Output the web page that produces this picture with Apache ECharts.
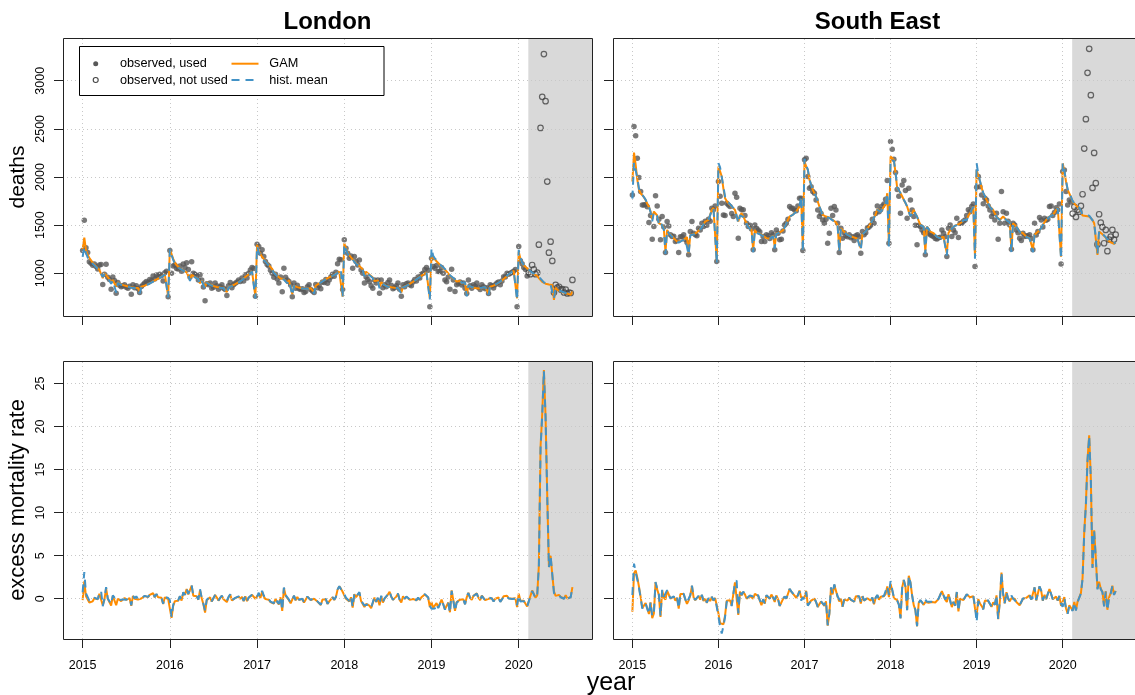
<!DOCTYPE html>
<html><head><meta charset="utf-8">
<script src="https://cdn.jsdelivr.net/npm/echarts@6/dist/echarts.min.js"></script>
<style>html,body{margin:0;padding:0;background:#fff}#c{width:1135px;height:695px}</style>
</head><body><div id="c"></div>
<script>
// ---------- DATA (weekly deaths, week 1..52 per year; 2020 to week 33) ----------
const years = [2015, 2016, 2017, 2018, 2019, 2020];
const yearTicks = [2015, 2016, 2017, 2018, 2019, 2020];
const deathTicks = [1000, 1500, 2000, 2500, 3000];
const excessTicks = [0, 5, 10, 15, 20, 25];
const firstNotUsedWeek2020 = 7;
const greyStart = 2020.11;
const londonPop = 8961989;
const southEastPop = 9180135;

const londonObserved = [
[1236,1550,1265,1215,1120,1104,1083,1095,1070,1045,1087,1092,882,990,1093,958,935,834,960,925,792,905,875,860,868,880,855,845,865,782,880,850,870,840,800,862,880,900,915,905,935,925,972,940,983,960,990,975,920,1005,1020,757],
[1236,1000,1075,1085,1050,1045,1075,1020,1095,1060,1110,1040,960,1120,1000,990,975,930,985,930,858,715,890,880,900,845,855,900,870,835,860,880,845,830,770,870,905,850,880,895,910,930,915,950,920,985,950,1000,1035,1060,1050,760],
[1302,1277,1208,1243,1173,1121,1090,1075,1030,1000,958,990,940,900,960,809,1052,958,930,915,878,757,900,845,875,838,830,840,800,810,860,880,830,815,800,882,850,872,840,910,905,935,895,930,960,990,970,1010,1100,1145,1140,830],
[1347,1260,1208,1156,1180,1052,1173,1121,1087,1139,1035,1000,900,960,935,913,870,844,931,900,930,792,931,850,880,860,905,930,875,840,850,870,900,835,760,880,860,890,900,880,870,910,935,920,960,950,990,1000,1040,1060,1030,653],
[1156,1069,1052,1080,1017,1017,1060,1000,931,913,960,834,1042,930,810,880,896,910,879,900,844,790,931,870,844,880,865,900,852,830,880,860,840,850,790,880,870,846,880,900,910,880,920,965,960,1000,990,1000,1010,1020,1040,653],
[1277,1130,1100,1060,1040,972,1010,990,1086,1040,990,1006,1297,2510,2833,3277,2788,1952,1214,1328,1128,800,880,850,860,830,835,800,830,790,800,795,931]
];
const londonGAM = [
[1250,1370,1240,1190,1160,1135,1110,1090,1070,1050,1035,1020,950,1000,985,960,945,905,930,915,860,905,895,885,880,872,868,862,858,855,852,850,850,848,812,860,865,872,880,888,895,905,915,925,935,945,955,965,975,990,1005,760],
[1240,1200,1150,1110,1085,1065,1050,1040,1030,1020,1010,995,935,985,970,960,950,940,895,925,915,860,905,895,885,875,868,862,858,855,852,850,850,848,805,855,860,868,878,888,898,908,918,930,945,960,975,990,1005,1020,1025,760],
[1295,1230,1200,1170,1150,1125,1105,1085,1065,1045,1010,990,975,960,945,935,940,925,900,930,925,785,870,862,856,850,846,843,840,840,840,842,845,848,800,870,880,895,905,918,930,940,950,958,966,975,983,993,1005,1017,1035,757],
[1312,1260,1215,1185,1165,1145,1125,1105,1090,1075,1060,1040,985,1015,1000,985,970,955,920,935,925,860,905,890,878,870,862,858,855,852,850,848,848,848,800,855,862,870,880,890,900,912,925,938,950,962,975,985,995,1010,1020,740],
[1190,1165,1145,1125,1110,1090,1070,1055,1040,1020,1000,975,955,945,935,915,930,920,895,905,900,775,870,860,855,850,846,844,842,845,848,852,855,855,790,860,865,872,880,890,898,910,925,940,955,970,985,1000,1010,1025,1035,740],
[1225,1150,1104,1080,1065,1052,1035,1018,1000,990,980,972,950,930,910,896,892,888,884,880,879,723,850,827,820,812,805,798,792,788,782,775,810]
];
const londonHistMean = [
[1170,1272,1210,1165,1140,1120,1100,1085,1065,1050,1030,1010,960,990,972,955,940,890,925,905,800,900,890,880,875,870,865,860,855,850,848,846,845,843,790,855,862,870,878,886,893,903,913,923,933,943,953,963,973,985,1000,750],
[1250,1190,1140,1100,1080,1060,1048,1038,1028,1018,1005,990,920,980,968,958,948,938,885,922,910,840,900,890,880,872,865,860,856,853,850,848,848,845,790,852,858,866,876,886,896,906,916,928,943,958,973,988,1003,1018,1035,740],
[1280,1215,1190,1160,1140,1120,1100,1080,1060,1040,1005,985,970,955,940,930,935,920,895,925,920,770,868,860,854,848,844,841,838,838,838,840,843,846,790,868,878,893,903,916,928,938,948,956,964,973,981,991,1003,1015,1040,745],
[1300,1250,1205,1180,1160,1140,1120,1100,1085,1070,1055,1035,970,1010,995,980,965,950,910,930,920,845,900,888,876,868,860,856,853,850,848,846,846,846,790,853,860,868,878,888,898,910,923,936,948,960,972,982,992,1005,1015,725],
[1260,1180,1155,1135,1115,1095,1075,1060,1045,1025,1005,980,960,950,940,920,935,925,898,908,903,760,872,862,857,852,848,846,844,847,850,854,857,857,775,862,868,875,883,893,901,913,928,943,958,973,988,1003,1013,1028,1040,720],
[1243,1160,1110,1085,1068,1055,1038,1020,1005,995,985,975,960,945,925,905,895,890,885,880,875,740,845,830,822,815,808,800,795,790,786,780,805]
];

const southEastObserved = [
[1814,2525,2428,2195,1994,1849,1710,1710,1715,1690,1527,1600,1353,1485,1804,1700,1560,1347,1589,1480,1215,1537,1492,1400,1381,1385,1329,1340,1215,1380,1378,1400,1350,1320,1191,1433,1537,1416,1400,1390,1468,1450,1520,1485,1540,1500,1560,1540,1676,1660,1700,1121],
[1953,1800,1728,1606,1600,1728,1710,1693,1620,1589,1832,1790,1364,1676,1660,1660,1600,1520,1485,1500,1460,1243,1502,1468,1450,1430,1329,1381,1329,1400,1390,1360,1420,1400,1243,1450,1416,1347,1354,1440,1502,1520,1560,1693,1676,1676,1658,1650,1700,1780,1780,1236],
[2178,2195,2005,1884,1900,1849,1832,1760,1658,1589,1620,1554,1520,1560,1312,1416,1676,1600,1693,1658,1520,1215,1468,1364,1420,1390,1380,1400,1370,1380,1340,1390,1400,1380,1208,1433,1400,1420,1470,1480,1500,1560,1520,1620,1700,1640,1660,1700,1720,1769,1963,1312],
[2369,2289,2185,2046,1870,1800,1624,1918,1963,1859,1572,1884,1762,1658,1589,1500,1295,1500,1485,1450,1420,1191,1450,1416,1400,1390,1381,1360,1357,1370,1374,1450,1416,1380,1173,1468,1502,1381,1450,1420,1572,1372,1520,1520,1540,1554,1600,1660,1640,1693,1720,1069],
[1894,2005,1900,1814,1721,1780,1762,1700,1658,1589,1620,1554,1624,1353,1520,1850,1640,1520,1624,1540,1502,1249,1520,1502,1450,1420,1364,1340,1416,1381,1390,1388,1400,1360,1243,1520,1398,1433,1580,1554,1480,1572,1550,1560,1693,1700,1600,1630,1680,1660,1720,1097],
[2057,2074,1849,1710,1760,1740,1620,1690,1585,1660,1640,1700,1821,2295,2601,3082,3332,2850,1887,2250,1936,1300,1613,1526,1480,1312,1450,1229,1350,1380,1450,1350,1401]
];
const southEastGAM = [
[1953,2254,2126,1970,1866,1830,1810,1790,1760,1720,1690,1640,1560,1641,1630,1600,1520,1540,1500,1468,1225,1450,1420,1400,1385,1364,1350,1330,1320,1330,1340,1350,1360,1375,1208,1398,1400,1405,1415,1425,1440,1460,1480,1510,1537,1545,1555,1565,1658,1680,1693,1121],
[2109,2060,2005,1880,1780,1750,1728,1710,1693,1675,1658,1600,1537,1600,1624,1590,1554,1520,1485,1470,1450,1243,1450,1425,1420,1410,1398,1390,1381,1365,1347,1360,1375,1390,1277,1416,1420,1425,1435,1445,1480,1520,1555,1589,1600,1610,1625,1641,1660,1693,1770,1243],
[2161,2110,2074,1970,1920,1866,1830,1797,1745,1693,1650,1606,1598,1589,1600,1580,1560,1554,1545,1530,1500,1243,1468,1450,1430,1415,1400,1390,1382,1380,1372,1364,1360,1355,1260,1405,1420,1440,1465,1490,1520,1550,1580,1610,1665,1650,1640,1665,1693,1720,1832,1295],
[2213,2200,2178,2040,1884,1860,1832,1800,1762,1730,1693,1640,1589,1620,1658,1620,1589,1545,1502,1490,1485,1225,1485,1460,1433,1425,1416,1400,1381,1372,1364,1370,1381,1390,1208,1420,1433,1470,1485,1495,1502,1508,1520,1530,1554,1560,1554,1600,1624,1660,1693,1173],
[2074,2010,1953,1890,1832,1800,1762,1725,1693,1675,1658,1620,1589,1570,1554,1570,1589,1570,1554,1540,1530,1243,1520,1502,1485,1460,1433,1425,1416,1400,1381,1372,1364,1370,1243,1400,1416,1430,1450,1470,1502,1530,1554,1570,1589,1600,1606,1630,1658,1680,1693,1173],
[2143,2057,1953,1866,1830,1790,1745,1725,1705,1690,1676,1640,1600,1589,1595,1595,1590,1570,1554,1520,1500,1191,1433,1420,1405,1390,1370,1347,1335,1320,1312,1305,1318]
];
const southEastHistMean = [
[1775,2150,2150,1990,1880,1840,1815,1795,1765,1725,1690,1635,1540,1635,1625,1595,1510,1535,1495,1460,1200,1445,1415,1395,1380,1360,1345,1327,1318,1328,1338,1348,1355,1370,1190,1395,1398,1402,1412,1422,1437,1457,1478,1508,1535,1543,1553,1563,1655,1678,1690,1100],
[2143,2100,2100,1900,1795,1760,1735,1715,1698,1680,1660,1595,1520,1600,1620,1585,1550,1515,1480,1465,1445,1220,1445,1420,1415,1405,1395,1386,1378,1362,1345,1358,1372,1387,1255,1412,1417,1422,1432,1442,1478,1518,1553,1587,1598,1608,1623,1640,1665,1700,1800,1220],
[2190,2120,2080,1975,1920,1866,1830,1795,1745,1693,1650,1600,1590,1585,1595,1575,1555,1550,1540,1525,1495,1220,1465,1448,1428,1413,1398,1388,1380,1378,1370,1362,1358,1353,1240,1403,1418,1438,1463,1488,1518,1548,1578,1608,1660,1648,1638,1663,1690,1718,1830,1270],
[2180,2190,2170,2050,1890,1862,1834,1802,1764,1732,1695,1642,1590,1620,1656,1618,1587,1543,1500,1488,1483,1200,1483,1458,1431,1423,1414,1398,1379,1370,1362,1368,1379,1388,1185,1418,1431,1468,1483,1493,1500,1506,1518,1528,1552,1558,1552,1598,1622,1658,1690,1150],
[2143,2030,1960,1895,1835,1800,1760,1723,1690,1672,1655,1618,1586,1568,1552,1568,1587,1568,1552,1538,1528,1215,1518,1500,1483,1458,1431,1423,1414,1398,1379,1370,1362,1368,1220,1398,1414,1428,1448,1468,1500,1528,1552,1568,1587,1598,1604,1628,1656,1678,1690,1150],
[2143,2070,1960,1870,1830,1795,1750,1730,1710,1695,1680,1645,1610,1600,1606,1606,1598,1575,1560,1525,1505,1200,1440,1425,1410,1395,1375,1352,1340,1325,1318,1310,1320]
];

// ---------- BUILD ----------
function build(obs, gam, hist, pop) {
  const r = {used: [], notUsed: [], gam: [], hist: [], exGam: [], exHist: []};
  years.forEach((yr, i) => {
    obs[i].forEach((v, w) => {
      const x = yr + w / 52;
      const notUsed = yr === 2020 && (w + 1) >= firstNotUsedWeek2020;
      (notUsed ? r.notUsed : r.used).push([x, v]);
      r.gam.push([x, gam[i][w]]);
      r.hist.push([x, hist[i][w]]);
      r.exGam.push([x, (v - gam[i][w]) / pop * 1e5]);
      r.exHist.push([x, (v - hist[i][w]) / pop * 1e5]);
    });
  });
  return r;
}
const lon = build(londonObserved, londonGAM, londonHistMean, londonPop);
const se = build(southEastObserved, southEastGAM, southEastHistMean, southEastPop);

const FONT = 'Liberation Sans, Arial, Helvetica, sans-serif';
const ORANGE = '#FF8C00', BLUE = '#4292C6', PT = '#585858';
const L = [63, 613], T = [38, 361], W = 529, H = 278;
const XMIN = 2014.775, XMAX = 2020.84;
const YTOP = [556, 3444], YBOT = [-4.68, 27.62];

const grids = [], xAxes = [], yAxes = [], series = [];
for (let gi = 0; gi < 4; gi++) {
  const col = gi % 2, row = gi < 2 ? 0 : 1;
  grids.push({left: L[col], top: T[row], width: W, height: H, containLabel: false});
  xAxes.push({
    type: 'value', gridIndex: gi, min: XMIN, max: XMAX, position: 'bottom',
    axisLine: {show: false, onZero: false}, splitLine: {show: false},
    axisTick: {show: true, customValues: yearTicks, length: 9, lineStyle: {color: '#222', width: 1}},
    axisLabel: {show: row === 1, customValues: yearTicks, formatter: v => String(v), fontSize: 12.5, color: '#000', margin: 20, fontFamily: FONT}
  });
  const ticks = row === 0 ? deathTicks : excessTicks;
  const yr = row === 0 ? YTOP : YBOT;
  yAxes.push({
    type: 'value', gridIndex: gi, min: yr[0], max: yr[1], position: 'left',
    axisLine: {show: false, onZero: false}, splitLine: {show: false},
    axisTick: {show: true, customValues: ticks, length: 9, lineStyle: {color: '#222', width: 1}},
    axisLabel: {show: col === 0, customValues: ticks, rotate: 90, formatter: v => String(v), fontSize: 12.5, color: '#000', margin: 16, fontFamily: FONT}
  });
  // dotted grid lines
  series.push({
    type: 'scatter', xAxisIndex: gi, yAxisIndex: gi, data: [], z: 1, silent: true,
    markLine: {
      silent: true, symbol: ['none', 'none'], label: {show: false}, animation: false,
      lineStyle: {type: [1, 3], color: '#C8C8C8', width: 1},
      data: yearTicks.map(v => ({xAxis: v})).concat(ticks.map(v => ({yAxis: v})))
    }
  });
  // grey region
  series.push({
    type: 'scatter', xAxisIndex: gi, yAxisIndex: gi, data: [], z: 2, silent: true,
    markArea: {silent: true, itemStyle: {color: '#D9D9D9'}, data: [[{xAxis: greyStart}, {xAxis: XMAX}]]}
  });
  const d = col === 0 ? lon : se;
  if (row === 0) {
    series.push({type: 'scatter', name: 'observed, used', xAxisIndex: gi, yAxisIndex: gi, data: d.used, z: 3,
      symbol: 'circle', symbolSize: 5.5, itemStyle: {color: PT}});
    series.push({type: 'scatter', name: 'observed, not used', xAxisIndex: gi, yAxisIndex: gi, data: d.notUsed, z: 3,
      symbol: 'circle', symbolSize: 5.5, itemStyle: {color: 'rgba(0,0,0,0)', borderColor: '#444', borderWidth: 1.2}});
    series.push({type: 'line', name: 'GAM', xAxisIndex: gi, yAxisIndex: gi, data: d.gam, z: 4,
      showSymbol: false, symbol: 'none', lineStyle: {color: ORANGE, width: 2}});
    series.push({type: 'line', name: 'hist. mean', xAxisIndex: gi, yAxisIndex: gi, data: d.hist, z: 5,
      showSymbol: false, symbol: 'none', lineStyle: {color: BLUE, width: 2, type: [8, 6]}});
  } else {
    series.push({type: 'line', name: 'GAM', xAxisIndex: gi, yAxisIndex: gi, data: d.exGam, z: 4,
      showSymbol: false, symbol: 'none', lineStyle: {color: ORANGE, width: 2}});
    series.push({type: 'line', name: 'hist. mean', xAxisIndex: gi, yAxisIndex: gi, data: d.exHist, z: 5,
      showSymbol: false, symbol: 'none', lineStyle: {color: BLUE, width: 2, type: [8, 6]}});
  }
}

function txt(x, y, text, size, opts) {
  opts = opts || {};
  return {type: 'text', x: x, y: y, rotation: opts.rot || 0, z: 110,
    style: {text: text, fill: '#000', font: (opts.bold ? 'bold ' : '') + size + 'px ' + FONT,
      textAlign: opts.align || 'center', align: opts.align || 'center',
      textVerticalAlign: 'middle', verticalAlign: 'middle'}};
}
const graphics = [];
for (let gi = 0; gi < 4; gi++) {
  const col = gi % 2, row = gi < 2 ? 0 : 1;
  graphics.push({type: 'rect', z: 100, silent: true,
    shape: {x: L[col] + 0.5, y: T[row] + 0.5, width: W, height: H},
    style: {fill: 'none', stroke: '#222', lineWidth: 1}});
}
graphics.push(txt(327.5, 22, 'London', 24, {bold: true}));
graphics.push(txt(877.5, 22, 'South East', 24, {bold: true}));
graphics.push(txt(18, 177, 'deaths', 21, {rot: Math.PI / 2}));
graphics.push(txt(18, 500, 'excess mortality rate', 22, {rot: Math.PI / 2}));
graphics.push(txt(611, 683, 'year', 25));
// legend
graphics.push({type: 'rect', z: 105, shape: {x: 79.5, y: 46.5, width: 304.5, height: 49}, style: {fill: '#fff', stroke: '#000', lineWidth: 1}});
graphics.push({type: 'circle', z: 106, shape: {cx: 95.7, cy: 63.7, r: 2.5}, style: {fill: PT}});
graphics.push({type: 'circle', z: 106, shape: {cx: 95.7, cy: 80, r: 2.5}, style: {fill: 'none', stroke: '#444', lineWidth: 1.1}});
graphics.push(txt(120, 63.7, 'observed, used', 12.7, {align: 'left'}));
graphics.push(txt(120, 80, 'observed, not used', 12.7, {align: 'left'}));
graphics.push({type: 'line', z: 106, shape: {x1: 231.5, y1: 63.7, x2: 258.5, y2: 63.7}, style: {stroke: ORANGE, lineWidth: 2}});
graphics.push({type: 'line', z: 106, shape: {x1: 231.5, y1: 80, x2: 258.5, y2: 80}, style: {stroke: BLUE, lineWidth: 2, lineDash: [8, 6]}});
graphics.push(txt(269.3, 63.7, 'GAM', 12.7, {align: 'left'}));
graphics.push(txt(269.3, 80, 'hist. mean', 12.7, {align: 'left'}));

const chart = echarts.init(document.getElementById('c'), null, {renderer: 'canvas'});
chart.setOption({
  animation: false,
  backgroundColor: '#fff',
  textStyle: {fontFamily: FONT},
  grid: grids, xAxis: xAxes, yAxis: yAxes, series: series,
  graphic: {elements: graphics}
});
</script></body></html>
